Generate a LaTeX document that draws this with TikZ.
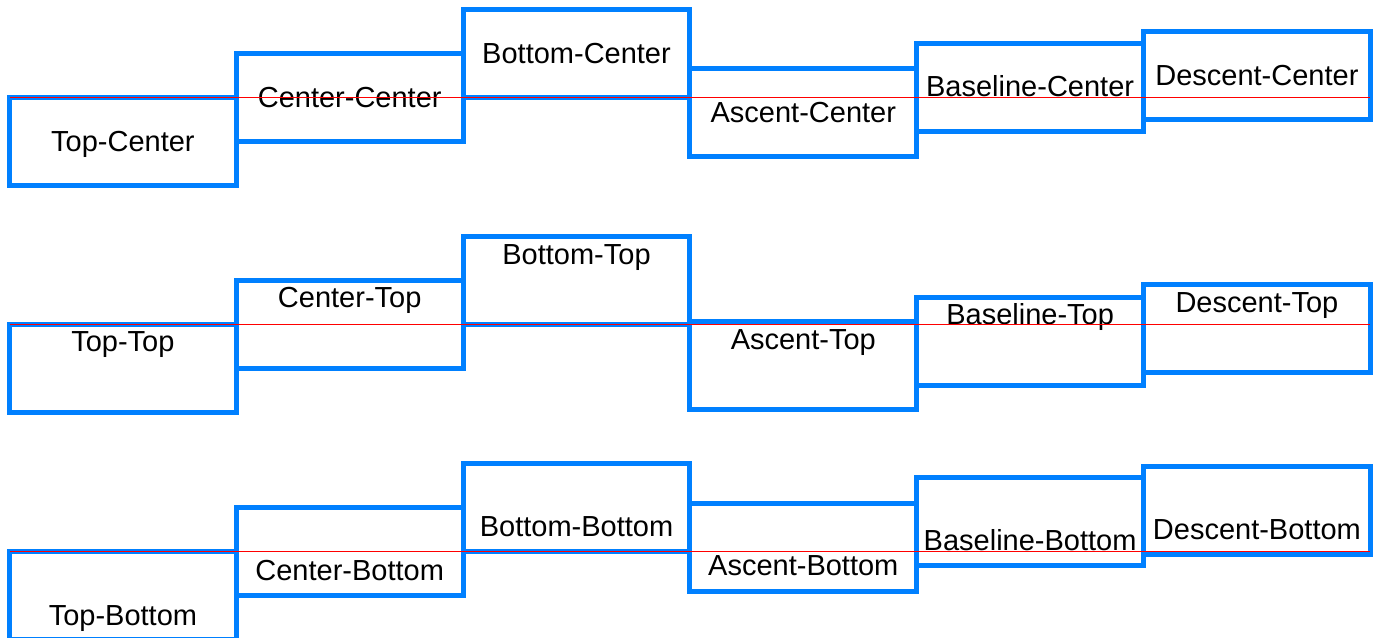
\documentclass[tikz,border=0pt]{standalone}
\usepackage{fontspec}
\setmainfont{Liberation Sans}
\definecolor{boxblue}{RGB}{0,128,255}
\begin{document}
\begin{tikzpicture}[x=1pt,y=-1pt,
  abox/.style={draw=boxblue,line width=5pt,minimum width=226.8pt,minimum height=88pt,inner sep=0pt,outer sep=0pt},
  lbl/.style={anchor=base,inner sep=0pt,outer sep=0pt,font=\fontsize{29}{34}\selectfont},
  refline/.style={red,line width=1.2pt}]
\useasboundingbox (0,0) rectangle (1378,637);
% row 1
\node[abox] (b11) at (122.9,141.5) {};
\node[abox] (b12) at (349.7,97.5) {};
\node[abox] (b13) at (576.5,53.5) {};
\node[abox] (b14) at (803.3,112) {};
\node[abox] (b15) at (1030.1,87) {};
\node[abox] (b16) at (1256.9,75.5) {};
\node[lbl] (t11) at (122.9,151.7) {Top-Center};
\node[lbl] (t12) at (349.7,107.3) {Center-Center};
\node[lbl] (t13) at (576.5,63.3) {Bottom-Center};
\node[lbl] (t14) at (803.3,122.7) {Ascent-Center};
\node[lbl] (t15) at (1030.1,96.7) {Baseline-Center};
\node[lbl] (t16) at (1256.9,85) {Descent-Center};
\draw[refline] (b11.north west) -- (b16.east |- b11.north);
% row 2
\node[abox] (b21) at (122.9,368.5) {};
\node[abox] (b22) at (349.7,324.5) {};
\node[abox] (b23) at (576.5,280.5) {};
\node[abox] (b24) at (803.3,365.5) {};
\node[abox] (b25) at (1030.1,341.3) {};
\node[abox] (b26) at (1256.9,328.8) {};
\node[lbl] (t21) at (122.9,351) {Top-Top};
\node[lbl] (t22) at (349.7,307.3) {Center-Top};
\node[lbl] (t23) at (576.5,264) {Bottom-Top};
\node[lbl] (t24) at (803.3,349.3) {Ascent-Top};
\node[lbl] (t25) at (1030.1,324.3) {Baseline-Top};
\node[lbl] (t26) at (1256.9,312.3) {Descent-Top};
\draw[refline] (b21.north west) -- (b26.east |- b21.north);
% row 3
\node[abox] (b31) at (122.9,595.5) {};
\node[abox] (b32) at (349.7,551.5) {};
\node[abox] (b33) at (576.5,507.5) {};
\node[abox] (b34) at (803.3,547) {};
\node[abox] (b35) at (1030.1,521.7) {};
\node[abox] (b36) at (1256.9,510) {};
\node[lbl] (t31) at (122.9,625) {Top-Bottom};
\node[lbl] (t32) at (349.7,580.7) {Center-Bottom};
\node[lbl] (t33) at (576.5,536.7) {Bottom-Bottom};
\node[lbl] (t34) at (803.3,575) {Ascent-Bottom};
\node[lbl] (t35) at (1030.1,550) {Baseline-Bottom};
\node[lbl] (t36) at (1256.9,539.3) {Descent-Bottom};
\draw[refline] (b31.north west) -- (b36.east |- b31.north);
\end{tikzpicture}
\end{document}
